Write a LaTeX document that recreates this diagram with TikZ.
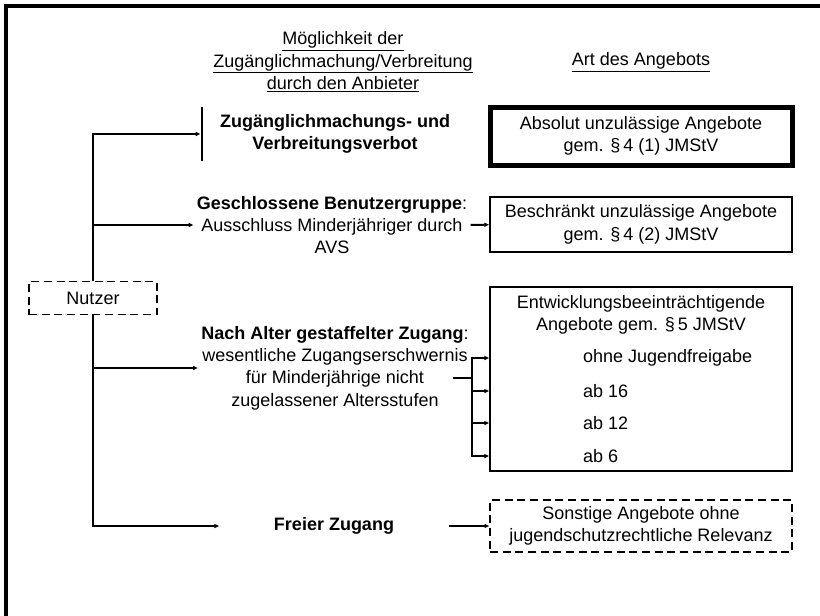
\documentclass[tikz,border=0pt]{standalone}
\usepackage{fontspec}
\setmainfont{Liberation Sans}
\usetikzlibrary{arrows.meta}
\usetikzlibrary{positioning}
\tikzset{
    offer/.style={
           rectangle,
           draw=black, line width=1.5pt,
           minimum width=226.5pt,
           align=center,
           },
    access/.style={
           align=center,
           inner sep=2pt,
           },
    user/.style={
           rectangle,
           draw=black, dash pattern=on 6pt off 3.5pt, line width=1.2pt,
           minimum width=96pt, minimum height=24.75pt,
           },
    age/.style={anchor=west, inner sep=0pt},
}

\begin{document}
\begin{tikzpicture}[x=0.75pt,y=-0.75pt,>={Triangle[length=3.5pt,width=3pt]},line width=1.5pt,
    font=\fontsize{13.5pt}{16.75pt}\selectfont]
	\useasboundingbox (0,0) rectangle (820,615);
	\draw[line width=3pt] (5.5,6) rectangle (900,700);

	% column heads
	\node[access] (poss) at (343,62)
			{
				\underline{Möglichkeit der}\\
				\underline{Zugänglichmachung/Verbreitung}\\
				\underline{durch den Anbieter}
			};
	\node[access] (kind) at (641,62) {\underline{Art des Angebots}};

	\node[user]                    (nutzer) at (93,298)  {Nutzer};
	\node[inner sep=0pt,minimum height=38.5pt] (bar) at (202,134) {};
	\node[access]                  (verbot) at (335,134) {\textbf{Zugänglichmachungs- und}\\\textbf{Verbreitungsverbot}};
	\node[access]                  (gbg)    at (332,225) {\textbf{Geschlossene Benutzergruppe}:\\Ausschluss Minderjähriger durch\\AVS};
	\node[access]                  (alter)  at (335,368) {\textbf{Nach Alter gestaffelter Zugang}:\\wesentliche Zugangserschwernis\\für Minderjährige nicht\\zugelassener Altersstufen};
	\node[access,minimum width=171pt] (frei) at (334,526) {\textbf{Freier Zugang}};

	\node[offer,line width=3.75pt,minimum height=43.5pt] (absolut) at (641,136) {Absolut unzulässige Angebote\\gem. §\,4 (1) JMStV};
	\node[offer,minimum height=41.25pt] (beschr) at (641,224.5) {Beschränkt unzulässige Angebote\\gem. §\,4 (2) JMStV};
	\node[offer,minimum height=138pt]   (entw)   at (641,379)   {};
	\node[access]                       (entwhead) at (641,315) {Entwicklungsbeeinträchtigende\\Angebote gem. §\,5 JMStV};
	\node[age] (ohne) at (582,358) {ohne Jugendfreigabe};
	\node[age] (ab16) at (582,391) {ab 16};
	\node[age] (ab12) at (582,423) {ab 12};
	\node[age] (ab6)  at (582,456) {ab 6};
	\node[offer,dash pattern=on 6pt off 3.5pt,line width=1.2pt,minimum height=39pt] (sonst) at (641,526) {Sonstige Angebote ohne\\jugendschutzrechtliche Relevanz};

	\draw (bar.north) -- (bar.south);
	\draw[->] (nutzer.north) |- (bar.west);
	\draw[->] (nutzer.north |- gbg.west) -- (gbg.west);
	\draw[->] (nutzer.south) |- (frei.west);
	\draw[->] (nutzer.south |- alter.west) -- (alter.west);

	\path[->] (gbg) edge (beschr);
	\path[->] (frei) edge (sonst);

	% fork to the age levels
	\coordinate (fork) at (472,378);
	\coordinate (stub) at (453,378);
	\draw (stub) -- (fork);
	\foreach \lvl in {ohne,ab16,ab12,ab6}
		\draw[->] (fork) |- (entw.west |- \lvl);
\end{tikzpicture}
\end{document}
